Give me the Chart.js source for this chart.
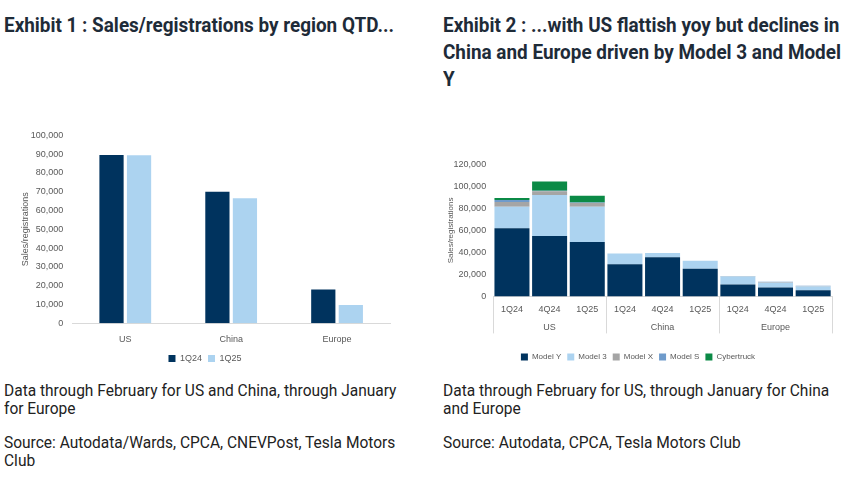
<!DOCTYPE html>
<html>
<head>
<meta charset="utf-8">
<script src="https://cdn.jsdelivr.net/npm/chart.js@4"></script>
<style>
  body { margin:0; width:845px; height:477px; background:#fff; position:relative; overflow:hidden; font-family:"Roboto",sans-serif; }
  .title { position:absolute; top:12px; font-weight:bold; font-size:21px; line-height:27px; color:#1e2b38; transform:scaleX(0.9); transform-origin:left top; white-space:nowrap; }
  .note { position:absolute; font-size:16px; line-height:18px; color:#222; transform:scaleX(0.97); transform-origin:left top; white-space:nowrap; }
  .box { position:absolute; }
</style>
</head>
<body>
<div class="title" style="left:4px;">Exhibit 1 : Sales/registrations by region QTD...</div>
<div class="title" style="left:443px;">Exhibit 2 : ...with US flattish yoy but declines in<br>China and Europe driven by Model 3 and Model<br>Y</div>

<div class="box" style="left:2px; top:121px; width:393px; height:252px;"><canvas id="c1"></canvas></div>
<div class="box" style="left:440px; top:152px; width:400px; height:221px;"><canvas id="c2"></canvas></div>

<div class="note" style="left:4px; top:382px;">Data through February for US and China, through January<br>for Europe</div>
<div class="note" style="left:4px; top:434px;">Source: Autodata/Wards, CPCA, CNEVPost, Tesla Motors<br>Club</div>
<div class="note" style="left:443px; top:382px;">Data through February for US, through January for China<br>and Europe</div>
<div class="note" style="left:443px; top:434px;">Source: Autodata, CPCA, Tesla Motors Club</div>

<script>
// exhibit 1 data
let regions = ['US', 'China', 'Europe'];
let q1_24 = [89500, 70000, 17900];
let q1_25 = [89400, 66600, 9700];

// exhibit 2 data
let quarters = ['1Q24', '4Q24', '1Q25', '1Q24', '4Q24', '1Q25', '1Q24', '4Q24', '1Q25'];
let modelY = [62000, 54800, 49400, 29300, 35600, 25100, 10800, 8100, 5700];
let model3 = [19400, 37400, 32000, 9600, 3900, 7200, 7200, 4200, 3300];
let modelX = [4500, 3300, 3600, 0, 0, 0, 300, 500, 300];
let modelS = [1800, 600, 300, 0, 0, 0, 200, 500, 300];
let cybertruck = [1800, 8400, 6300, 0, 0, 0, 0, 0, 0];

let navy = '#00335e';
let light = '#acd3f0';
let tickFont = { family: 'Liberation Sans', size: 9 };
let grey = '#595959';

Chart.defaults.font.family = 'Liberation Sans';
Chart.defaults.color = grey;

new Chart(document.getElementById('c1'), {
    type: 'bar',
    data: {
        labels: regions,
        datasets: [
            { label: '1Q24', data: q1_24, backgroundColor: navy, categoryPercentage: 0.52, barPercentage: 0.88 },
            { label: '1Q25', data: q1_25, backgroundColor: light, categoryPercentage: 0.52, barPercentage: 0.88 }
        ]
    },
    options: {
        animation: false,
        responsive: true,
        maintainAspectRatio: false,
        layout: { padding: { top: 10, right: 5, left: 18 } },
        plugins: {
            legend: { position: 'bottom', labels: { boxWidth: 7, boxHeight: 7, font: tickFont, padding: 6 } },
            tooltip: { enabled: false }
        },
        scales: {
            x: {
                grid: { display: false },
                border: { color: '#d9d9d9' },
                ticks: { font: tickFont, color: grey }
            },
            y: {
                min: 0, max: 100000,
                grid: { display: false, drawTicks: false },
                border: { display: false },
                ticks: { stepSize: 10000, font: tickFont, color: grey, padding: 9 },
                title: { display: true, text: 'Sales/registrations', font: { size: 9 }, color: grey, padding: 0 },
                afterFit(s) { s.width -= 9; }
            }
        }
    }
});

// separators for the grouped axis
let groupLines = {
    id: 'groupLines',
    afterDraw(chart) {
        let x2 = chart.scales.x2;
        let ctx = chart.ctx;
        let bottom = chart.chartArea.bottom;
        ctx.save();
        ctx.strokeStyle = '#d9d9d9';
        ctx.lineWidth = 1;
        for (let i = 0; i <= regions.length; i++) {
            let px = Math.round(x2.getPixelForValue(i - 0.5)) + 0.5;
            ctx.beginPath();
            ctx.moveTo(px, bottom);
            ctx.lineTo(px, bottom + 37);
            ctx.stroke();
        }
        ctx.restore();
    }
};

new Chart(document.getElementById('c2'), {
    type: 'bar',
    data: {
        labels: quarters,
        datasets: [
            { label: 'Model Y', data: modelY, backgroundColor: navy },
            { label: 'Model 3', data: model3, backgroundColor: light },
            { label: 'Model X', data: modelX, backgroundColor: '#a5a5a5' },
            { label: 'Model S', data: modelS, backgroundColor: '#6f9bcb' },
            { label: 'Cybertruck', data: cybertruck, backgroundColor: '#0b8a46' }
        ].map(d => Object.assign(d, { categoryPercentage: 1, barPercentage: 0.93 }))
    },
    options: {
        animation: false,
        responsive: true,
        maintainAspectRatio: false,
        layout: { padding: { top: 5, right: 8, left: 4, bottom: 2 } },
        plugins: {
            legend: { position: 'bottom', labels: { boxWidth: 7, boxHeight: 7, font: { size: 8 }, padding: 6 } },
            tooltip: { enabled: false }
        },
        scales: {
            x: {
                stacked: true,
                grid: { display: false, drawTicks: false },
                border: { color: '#d9d9d9' },
                ticks: { font: tickFont, color: grey, padding: 8 },
                afterFit(s) { s.height -= 2; }
            },
            x2: {
                type: 'category',
                labels: regions,
                position: 'bottom',
                grid: { display: false, drawTicks: false },
                border: { display: false },
                ticks: { font: tickFont, color: grey, padding: 1 },
                afterFit(s) { s.height += 13; }
            },
            y: {
                stacked: true,
                min: 0, max: 120000,
                grid: { display: false, drawTicks: false },
                border: { display: false },
                ticks: { stepSize: 20000, font: tickFont, color: grey, padding: 7 },
                title: { display: true, text: 'Sales/registrations', font: { size: 8 }, color: grey, padding: 2 },
                afterFit(s) { s.width -= 11; }
            }
        }
    },
    plugins: [groupLines]
});
</script>
</body>
</html>
